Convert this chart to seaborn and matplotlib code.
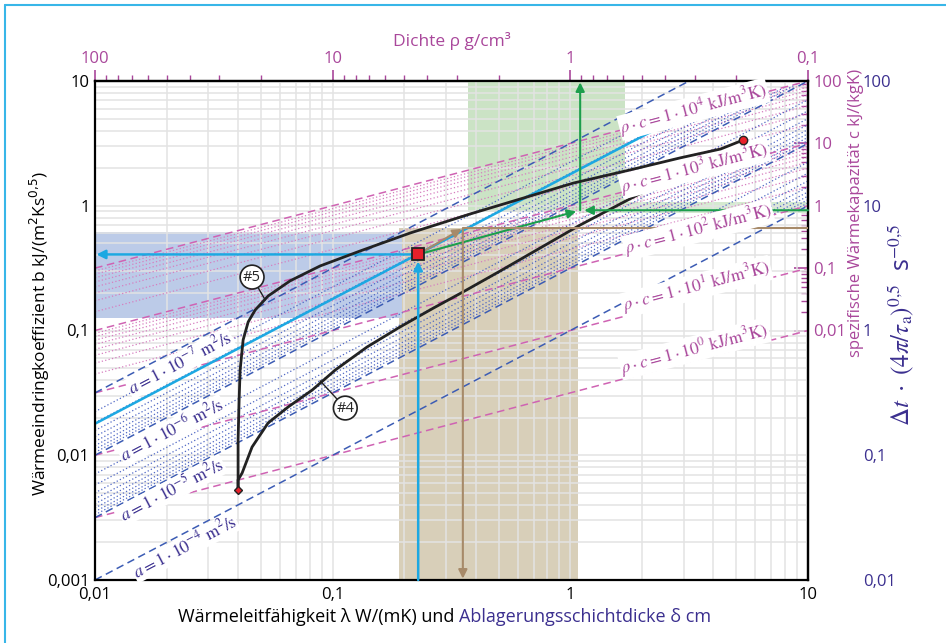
import numpy as np
import matplotlib
matplotlib.use("Agg")
import matplotlib.pyplot as plt
import matplotlib.ticker as mticker
from matplotlib.lines import Line2D
from matplotlib.offsetbox import TextArea, HPacker, AnnotationBbox
import seaborn as sns

# ---------------------------------------------------------------
# Werte aus dem Nomogramm abgelesen
# ---------------------------------------------------------------
lam_ticks = [0.01, 0.1, 1, 10]
lam_labels = ["0,01", "0,1", "1", "10"]
b_ticks = [0.001, 0.01, 0.1, 1, 10]
b_labels = ["0,001", "0,01", "0,1", "1", "10"]
rho_ticks = [100, 10, 1, 0.1]
rho_labels = ["100", "10", "1", "0,1"]
c_ticks = [100, 10, 1, 0.1, 0.01]
c_labels = ["100", "10", "1", "0,1", "0,01"]
dt_ticks = [100, 10, 1, 0.1, 0.01]
dt_labels = ["100", "10", "1", "0,1", "0,01"]
minor_mult = [2, 3, 4, 5, 6, 7, 8, 9]

# rho*c in kJ/(m3K), a in m2/s
rhoc_lines = [1e0, 1e1, 1e2, 1e3, 1e4]
rhoc_exps = ["0", "1", "2", "3", "4"]
rhoc_label_lam = [3.33, 3.40, 3.46, 3.33, 3.30]
rhoc_label_b = [0.0715, 0.225, 0.645, 2.02, 5.95]
a_lines = [1e-7, 1e-6, 1e-5, 1e-4]
a_exps = ["-7", "-6", "-5", "-4"]
a_label_lam = [0.0228, 0.0211, 0.0211, 0.0239]
a_label_b = [0.0549, 0.0159, 0.00526, 0.00184]
rhoc_fine_decades = [1e2, 1e3]
a_fine_decades = [1e-7, 1e-6, 1e-5]
fine_rhoc_max = 1e4      # fine a-lines only below this rho*c
fine_rhoc_min = 1e2      # ... and above this one for a >= 1e-5
fine_a_split = 1e-5

# Kurven #5 und #4
curve5_lam = [0.040, 0.040, 0.0404, 0.0408, 0.042, 0.0441, 0.0472, 0.0535, 0.0662,
              0.0885, 0.1305, 0.212, 0.379, 1.03, 1.79, 2.90, 4.29, 5.35]
curve5_b = [0.00526, 0.0132, 0.0277, 0.0482, 0.084, 0.117, 0.146, 0.189, 0.250,
            0.329, 0.434, 0.605, 0.859, 1.52, 1.94, 2.42, 2.85, 3.37]
curve4_lam = [0.040, 0.040, 0.0416, 0.0458, 0.0535, 0.065, 0.082, 0.1025, 0.1396,
              0.192, 0.265, 0.354, 0.507, 0.698, 1.10, 1.71, 2.64]
curve4_b = [0.00526, 0.00634, 0.00721, 0.01164, 0.01815, 0.0244, 0.0333, 0.0482,
            0.0738, 0.1067, 0.151, 0.204, 0.300, 0.426, 0.701, 1.09, 1.67]
start_pt = (0.040, 0.00526)
end_pt = (5.35, 3.37)
tag5_text, tag5_xy, tag5_target = "#5", (0.0458, 0.268), (0.052, 0.176)
tag4_text, tag4_xy, tag4_target = "#4", (0.113, 0.0239), (0.0886, 0.0395)

# Ablesebeispiel
read_pt = (0.229, 0.407)
cyan_lam = [0.01, 3.18]
cyan_b = [0.0179, 5.7]
green_joint = (1.10, 0.92)
brown_joint = (0.353, 0.66)

# Bereiche
green_lam, green_b = [0.371, 1.70], [0.89, 10]
green_band_lam, green_band_b = [1.10, 10], [0.88, 1.07]
tan_lam, tan_b = [0.19, 1.08], [0.001, 0.66]
blue_lam, blue_b = [0.01, 0.196], [0.127, 0.62]

# ---------------------------------------------------------------
magenta = "#a9479b"
mag_line = "#cf63b3"
mag_dot = "#d67fc0"
indigo = "#3b2f8f"
blue_line = "#3c5cb4"
blue_dot = "#4f67c4"
cyan = "#1ca8e2"
green = "#1c9e4c"
brown = "#a78a69"

sns.set_theme(style="white")
plt.rcParams["font.family"] = ["Open Sans", "DejaVu Sans"]


def b_from_rhoc(lam, rc):
    return np.sqrt(np.asarray(lam, dtype=float) * rc / 1000.0)


def b_from_a(lam, a):
    return np.asarray(lam, dtype=float) / (1000.0 * np.sqrt(a))


fig = plt.figure(figsize=(9.46, 6.43), dpi=100)
ax = fig.add_axes([95 / 946, 1 - 580 / 643, 713 / 946, 499 / 643])
ax.set_xscale("log")
ax.set_yscale("log")
lam_lo, lam_hi = lam_ticks[0], lam_ticks[-1]
ax.set_xlim(lam_lo, lam_hi)
ax.set_ylim(b_ticks[0], b_ticks[-1])
ax.set_facecolor("white")
ax.set_axisbelow(True)
ax.grid(which="both", color="#e3e3e3", lw=1.1)

# Flaechen
ax.fill_between(green_lam, green_b[0], green_b[1], color="#cbe3c5", lw=0, zorder=0.2)
ax.fill_between(green_band_lam, green_band_b[0], green_band_b[1], color="#d5ead0", lw=0, zorder=0.2)
ax.fill_between(tan_lam, tan_b[0], tan_b[1], color="#d8cfb9", lw=0, zorder=0.2)
ax.fill_between(blue_lam, blue_b[0], blue_b[1], color="#bccbe8", lw=0, zorder=0.2)

# feine Linien
for dec in rhoc_fine_decades:
    for m in minor_mult:
        xs = [lam_lo, lam_hi]
        ax.plot(xs, b_from_rhoc(xs, m * dec), color=mag_dot, lw=0.9,
                ls=(0, (1, 1.8)), zorder=1)
for dec in a_fine_decades:
    for m in minor_mult:
        a = m * dec
        lmax = min(lam_hi, a * fine_rhoc_max * 1000)
        lmin = lam_lo if a < fine_a_split else max(lam_lo, a * fine_rhoc_min * 1000)
        xs = [lmin, lmax]
        ax.plot(xs, b_from_a(xs, a), color=blue_dot, lw=0.9,
                ls=(0, (1, 1.8)), zorder=1)

# Hauptlinien
for rc in rhoc_lines:
    xs = [lam_lo, lam_hi]
    ax.plot(xs, b_from_rhoc(xs, rc), color=mag_line, lw=1.1, ls=(0, (5, 3)), zorder=1.5)
for a in a_lines:
    xs = [lam_lo, lam_hi]
    ax.plot(xs, b_from_a(xs, a), color=blue_line, lw=1.1, ls=(0, (5, 3)), zorder=1.5)

# Ablesebeispiel
ax.plot(cyan_lam, cyan_b, color=cyan, lw=1.8, zorder=2)

arrow_kw = dict(arrowstyle="-|>", mutation_scale=13, shrinkA=0)
ax.annotate("", xy=read_pt, xytext=(read_pt[0], b_ticks[0]),
            arrowprops=dict(color=cyan, lw=1.8, shrinkB=5, **arrow_kw), zorder=4)
ax.annotate("", xy=(lam_lo, read_pt[1]), xytext=read_pt,
            arrowprops=dict(color=cyan, lw=1.8, shrinkB=1, **arrow_kw), zorder=4)
ax.annotate("", xy=green_joint, xytext=read_pt,
            arrowprops=dict(color=green, lw=1.5, shrinkB=3, **arrow_kw), zorder=4)
ax.annotate("", xy=(green_joint[0], b_ticks[-1]), xytext=green_joint,
            arrowprops=dict(color=green, lw=1.5, shrinkB=1, **arrow_kw), zorder=4)
ax.annotate("", xy=green_joint, xytext=(lam_hi, green_joint[1]),
            arrowprops=dict(color=green, lw=1.5, shrinkB=3, **arrow_kw), zorder=4)
ax.annotate("", xy=brown_joint, xytext=read_pt,
            arrowprops=dict(color=brown, lw=1.5, shrinkB=1, **arrow_kw), zorder=4)
ax.annotate("", xy=(brown_joint[0], b_ticks[0]), xytext=brown_joint,
            arrowprops=dict(color=brown, lw=1.5, shrinkB=1, **arrow_kw), zorder=4)
ax.plot([brown_joint[0], lam_hi], [brown_joint[1], brown_joint[1]], color=brown, lw=1.5, zorder=4)

# Kurven (#5 liegt ueber den Beschriftungen)
sns.lineplot(x=curve5_lam, y=curve5_b, sort=False, estimator=None, ax=ax,
             color="#222222", lw=2.0, zorder=9)
sns.lineplot(x=curve4_lam, y=curve4_b, sort=False, estimator=None, ax=ax,
             color="#222222", lw=2.0, zorder=3)
ax.plot(*start_pt, marker="D", ms=4.5, mfc="#e8202a", mec="#222222", mew=1, zorder=10)
ax.plot(*end_pt, marker="o", ms=6, mfc="#e8202a", mec="#222222", mew=1, zorder=10)
ax.plot(*read_pt, marker="s", ms=8, mfc="#e8202a", mec="#222222", mew=1.3, zorder=10)

for txt, xy, tgt in [(tag5_text, tag5_xy, tag5_target), (tag4_text, tag4_xy, tag4_target)]:
    ax.annotate(txt, xy=tgt, xytext=xy, ha="center", va="center", fontsize=10.5,
                bbox=dict(boxstyle="circle,pad=0.2", fc="white", ec="#222222", lw=1.2),
                arrowprops=dict(arrowstyle="-", color="#222222", lw=1.0, shrinkA=0, shrinkB=0),
                zorder=10)

# Beschriftungen der Linien
dec_x = 713 / 3
dec_y = 499 / 4
rot_rhoc = np.degrees(np.arctan(0.5 * dec_y / dec_x))
rot_a = np.degrees(np.arctan(dec_y / dec_x))
box = dict(fc="white", ec="none", pad=0.5)
for e, lx, ly in zip(rhoc_exps, rhoc_label_lam, rhoc_label_b):
    ax.text(lx, ly, r"$\rho\cdot c = 1\cdot 10^{%s}\ \mathrm{kJ/m^{3}K)}$" % e,
            rotation=rot_rhoc, rotation_mode="anchor", ha="center", va="center",
            color=magenta, fontsize=12.5, math_fontfamily="stix", bbox=box, zorder=8,
            clip_on=False)
for e, lx, ly in zip(a_exps, a_label_lam, a_label_b):
    ax.text(lx, ly, r"$a = 1\cdot 10^{%s}\ \mathrm{m^{2}/s}$" % e,
            rotation=rot_a, rotation_mode="anchor", ha="center", va="center",
            color=indigo, fontsize=12.5, math_fontfamily="stix", bbox=box, zorder=8,
            clip_on=False)

# Achsen
ax.set_xticks(lam_ticks, labels=lam_labels)
ax.set_yticks(b_ticks, labels=b_labels)
ax.tick_params(which="both", length=0, labelsize=12, colors="black")
ax.tick_params(axis="x", pad=5)
ax.tick_params(axis="y", pad=4)
for sp in ax.spines.values():
    sp.set_color("black")
    sp.set_linewidth(1.6)
ax.set_ylabel("Wärmeeindringkoeffizient b kJ/(m$^2$Ks$^{0{,}5}$)", fontsize=12.5, color="black")
ax.yaxis.set_label_coords(-0.06, 0.495)

inv = lambda v: 1.0 / np.maximum(np.asarray(v, dtype=float), 1e-300)
top = ax.secondary_xaxis("top", functions=(inv, inv))
top.set_ticks(rho_ticks, labels=rho_labels)
top.xaxis.set_minor_locator(mticker.FixedLocator([m * 10.0 ** k for k in (-1, 0, 1) for m in minor_mult]))
top.xaxis.set_minor_formatter(mticker.NullFormatter())
top.tick_params(which="major", direction="out", length=8, width=1.2, colors=magenta, labelsize=12, pad=2)
top.tick_params(which="minor", direction="out", length=4, width=1.0, colors=magenta)
top.spines["top"].set_color("black")
top.spines["top"].set_linewidth(1.6)
top.set_xlabel("Dichte ρ g/cm³", color=magenta, fontsize=12.5, labelpad=4)

csec = ax.secondary_yaxis("right", functions=(lambda v: np.asarray(v, dtype=float) ** 2,
                                             lambda v: np.sqrt(np.maximum(np.asarray(v, dtype=float), 0))))
csec.set_ticks(c_ticks, labels=c_labels)
csec.yaxis.set_minor_locator(mticker.FixedLocator([m * 10.0 ** k for k in (-2, -1, 0, 1) for m in minor_mult]))
csec.yaxis.set_minor_formatter(mticker.NullFormatter())
csec.tick_params(which="major", direction="in", length=10, width=1.2, colors=magenta, labelsize=12, pad=4)
csec.tick_params(which="minor", direction="in", length=5, width=1.0, colors=magenta)
csec.spines["right"].set_color("black")
csec.spines["right"].set_linewidth(1.6)

dsec = ax.secondary_yaxis(1.077, functions=(lambda v: 10 * np.asarray(v, dtype=float),
                                           lambda v: np.asarray(v, dtype=float) / 10))
dsec.set_ticks(dt_ticks, labels=dt_labels)
dsec.yaxis.set_minor_locator(mticker.NullLocator())
dsec.tick_params(length=0, colors=indigo, labelsize=12, pad=0)
for sp in dsec.spines.values():
    sp.set_visible(False)

fig.text(856 / 946, 1 - 213 / 643, "spezifische Wärmekapazität c kJ/(kgK)", rotation=90,
         ha="center", va="center", color=magenta, fontsize=12)
fig.text(901 / 946, 1 - 325 / 643,
         r"$\Delta t\ \cdot\ (4\pi/\tau_{\mathrm{a}})^{0{,}5}$  s$^{-0{,}5}$",
         rotation=90, ha="center", va="center", color=indigo, fontsize=18,
         math_fontfamily="stix")

# zweifarbige x-Beschriftung
t1 = TextArea("Wärmeleitfähigkeit λ W/(mK) und ", textprops=dict(color="black", fontsize=13))
t2 = TextArea("Ablagerungsschichtdicke δ cm", textprops=dict(color=indigo, fontsize=13))
pack = HPacker(children=[t1, t2], pad=0, sep=0, align="baseline")
fig.add_artist(AnnotationBbox(pack, (445 / 946, 1 - 617 / 643), xycoords="figure fraction",
                              frameon=False, box_alignment=(0.5, 0.5)))

# Rahmen
fig.add_artist(Line2D([5 / 946, 5 / 946], [0, 1 - 5 / 643], color="#38b6e8", lw=1.5,
                      transform=fig.transFigure))
fig.add_artist(Line2D([5 / 946, 1], [1 - 5 / 643, 1 - 5 / 643], color="#38b6e8", lw=1.5,
                      transform=fig.transFigure))

fig.savefig("out.png", dpi=100, facecolor="white")
